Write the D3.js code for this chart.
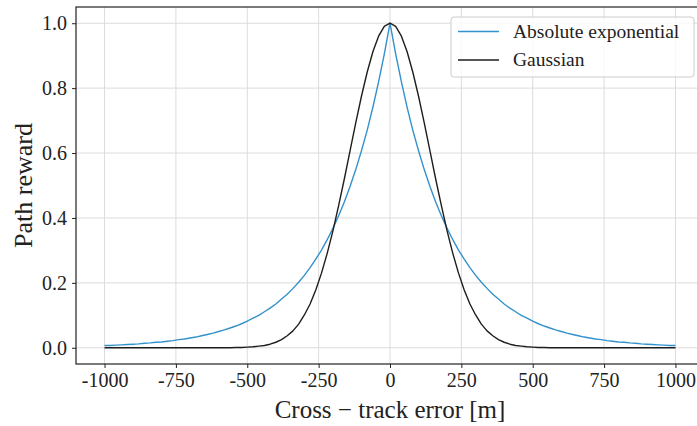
<!DOCTYPE html>
<html>
<head>
<meta charset="utf-8">
<script src="https://cdn.jsdelivr.net/npm/d3@7"></script>
<style>
  html, body { margin: 0; padding: 0; background: #fff; }
  svg { display: block; }
  text { font-family: "Liberation Serif", "DejaVu Serif", serif; fill: #222; }
</style>
</head>
<body>
<svg id="chart" width="697" height="426"></svg>
<script>
// ---- data ----
const seriesNames = ["Absolute exponential", "Gaussian"];
const xTickValues = [-1000, -750, -500, -250, 0, 250, 500, 750, 1000];
const xTickLabels = ["-1000", "-750", "-500", "-250", "0", "250", "500", "750", "1000"];
const yTickValues = [0.0, 0.2, 0.4, 0.6, 0.8, 1.0];
const yTickLabels = ["0.0", "0.2", "0.4", "0.6", "0.8", "1.0"];

const errorX = [
  -1000,-980,-960,-940,-920,-900,-880,-860,-840,-820,
  -800,-780,-760,-740,-720,-700,-680,-660,-640,-620,
  -600,-580,-560,-540,-520,-500,-480,-460,-440,-420,
  -400,-380,-360,-340,-320,-300,-280,-260,-240,-220,
  -200,-180,-160,-140,-120,-100,-80,-60,-40,-20,
  0,
  20,40,60,80,100,120,140,160,180,200,
  220,240,260,280,300,320,340,360,380,400,
  420,440,460,480,500,520,540,560,580,600,
  620,640,660,680,700,720,740,760,780,800,
  820,840,860,880,900,920,940,960,980,1000
];

const absExpReward = [
  0.007,0.007,0.008,0.009,0.010,0.011,0.012,0.014,0.015,0.017,
  0.018,0.020,0.022,0.025,0.027,0.030,0.033,0.037,0.041,0.045,
  0.050,0.055,0.061,0.067,0.074,0.082,0.091,0.100,0.111,0.122,
  0.135,0.150,0.165,0.183,0.202,0.223,0.247,0.273,0.301,0.333,
  0.368,0.407,0.449,0.497,0.549,0.607,0.670,0.741,0.819,0.905,
  1.000,
  0.905,0.819,0.741,0.670,0.607,0.549,0.497,0.449,0.407,0.368,
  0.333,0.301,0.273,0.247,0.223,0.202,0.183,0.165,0.150,0.135,
  0.122,0.111,0.100,0.091,0.082,0.074,0.067,0.061,0.055,0.050,
  0.045,0.041,0.037,0.033,0.030,0.027,0.025,0.022,0.020,0.018,
  0.017,0.015,0.014,0.012,0.011,0.010,0.009,0.008,0.007,0.007
];

const gaussianReward = [
  0,0,0,0,0,0,0,0,0,0,
  0,0,0,0,0,0,0,0,0,0,
  0,0,0,0.001,0.001,0.002,0.003,0.005,0.007,0.011,
  0.017,0.025,0.037,0.052,0.073,0.101,0.135,0.178,0.230,0.291,
  0.360,0.438,0.520,0.607,0.693,0.775,0.849,0.912,0.960,0.990,
  1.000,
  0.990,0.960,0.912,0.849,0.775,0.693,0.607,0.520,0.438,0.360,
  0.291,0.230,0.178,0.135,0.101,0.073,0.052,0.037,0.025,0.017,
  0.011,0.007,0.005,0.003,0.002,0.001,0.001,0,0,0,
  0,0,0,0,0,0,0,0,0,0,
  0,0,0,0,0,0,0,0,0,0
];

const seriesColors = ["#3391cc", "#1e1e1e"];

// ---- layout ----
const svg = d3.select("#chart");
const L = 76, T = 7, R = 704, B = 364;

const x = d3.scaleLinear().domain([-1100, 1100]).range([L, R]);
const y = d3.scaleLinear().domain([-0.05, 1.05]).range([B, T]);

// grid
const grid = svg.append("g");
grid.selectAll("line.vx").data(xTickValues).join("line")
  .attr("x1", d => x(d)).attr("x2", d => x(d))
  .attr("y1", T).attr("y2", B)
  .attr("stroke", "#dcdcdc").attr("stroke-width", 1);
grid.selectAll("line.hy").data(yTickValues).join("line")
  .attr("x1", L).attr("x2", R)
  .attr("y1", d => y(d)).attr("y2", d => y(d))
  .attr("stroke", "#dcdcdc").attr("stroke-width", 1);

// lines
const seriesData = [absExpReward, gaussianReward];
const line = d3.line().x((d, i) => x(errorX[i])).y(d => y(d));
seriesData.forEach((vals, k) => {
  svg.append("path").datum(vals)
    .attr("fill", "none")
    .attr("stroke", seriesColors[k])
    .attr("stroke-width", 1.4)
    .attr("stroke-linejoin", "round")
    .attr("d", line);
});

// spines
svg.append("rect").attr("x", L).attr("y", T).attr("width", R - L).attr("height", B - T)
  .attr("fill", "none").attr("stroke", "#222").attr("stroke-width", 1.2);

// axes
const xAxis = d3.axisBottom(x).tickValues(xTickValues)
  .tickFormat((d, i) => xTickLabels[i]).tickSize(4).tickPadding(5);
const gx = svg.append("g").attr("transform", `translate(0,${B})`).call(xAxis);
gx.select(".domain").remove();
gx.selectAll(".tick line").attr("stroke", "#222");
gx.selectAll(".tick text").attr("font-size", 20).attr("font-family", "Liberation Serif, serif").attr("fill", "#222");

const yAxis = d3.axisLeft(y).tickValues(yTickValues)
  .tickFormat((d, i) => yTickLabels[i]).tickSize(4).tickPadding(5);
const gy = svg.append("g").attr("transform", `translate(${L},0)`).call(yAxis);
gy.select(".domain").remove();
gy.selectAll(".tick line").attr("stroke", "#222");
gy.selectAll(".tick text").attr("font-size", 20).attr("font-family", "Liberation Serif, serif").attr("fill", "#222");

// axis labels
svg.append("text").attr("x", (L + 704) / 2).attr("y", 418)
  .attr("text-anchor", "middle").attr("font-size", 25)
  .text("Cross \u2212 track error [m]");
svg.append("text")
  .attr("transform", `translate(32,${(T + B) / 2}) rotate(-90)`)
  .attr("text-anchor", "middle").attr("font-size", 26)
  .text("Path reward");

// legend
const lg = svg.append("g");
lg.append("rect").attr("x", 451).attr("y", 17).attr("width", 243).attr("height", 60)
  .attr("rx", 3).attr("fill", "#fff").attr("fill-opacity", 0.8)
  .attr("stroke", "#cccccc").attr("stroke-width", 1);
const legendY = [31.5, 60];
seriesNames.forEach((name, k) => {
  lg.append("line").attr("x1", 458).attr("x2", 499)
    .attr("y1", legendY[k]).attr("y2", legendY[k])
    .attr("stroke", seriesColors[k]).attr("stroke-width", 1.4);
  lg.append("text").attr("x", 513).attr("y", legendY[k] + 6)
    .attr("font-size", 19.5).text(name);
});
</script>
</body>
</html>
